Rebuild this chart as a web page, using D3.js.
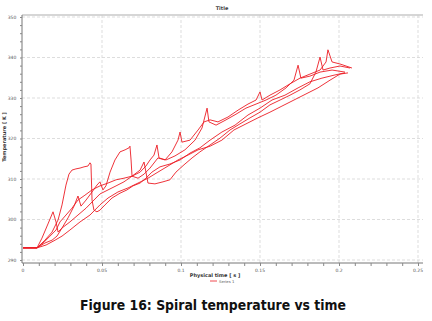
<!DOCTYPE html>
<html><head><meta charset="utf-8">
<script src="https://cdn.jsdelivr.net/npm/d3@7"></script>
<style>html,body{margin:0;padding:0;background:#fff;}svg{display:block;}</style>
</head><body>
<svg id="c" width="432" height="321"></svg>
<script>
// ---- data (time [s], temperature [K]) ----
const xTicks = [0, 0.05, 0.1, 0.15, 0.2, 0.25];
const xTickLabels = ["0", "0.05", "0.1", "0.15", "0.2", "0.25"];
const yTicks = [290, 300, 310, 320, 330, 340, 350];
const yTickLabels = ["290", "300", "310", "320", "330", "340", "350"];

const series1 = [[0,293.0],[0.0089,293.0],[0.0139,294.9],[0.0184,296.9],[0.0222,299.9],[0.0247,303.6],[0.0272,308.5],[0.0291,311.2],[0.0310,312.2],[0.0335,312.5],[0.0361,312.7],[0.0386,313.0],[0.0411,313.2],[0.0424,314.0],[0.0430,313.7],[0.0437,304.8],[0.0449,302.3],[0.0468,301.9],[0.0487,302.3],[0.0519,303.6],[0.0563,305.3],[0.0614,306.5],[0.0658,307.3],[0.0696,308.3],[0.0741,309.0],[0.0778,310.2],[0.0816,311.7],[0.0867,313.0],[0.0930,313.7],[0.0994,314.7],[0.1057,316.4],[0.1120,317.7],[0.1184,319.6],[0.1259,321.6],[0.1342,323.3],[0.1424,325.8],[0.1500,327.5],[0.1576,329.5],[0.1658,330.7],[0.1741,332.5],[0.1816,334.0],[0.1892,334.9],[0.1975,335.7],[0.2038,336.2]];
const series2 = [[0,293.0],[0.0089,293.0],[0.0120,295.4],[0.0158,298.9],[0.0190,301.9],[0.0209,299.4],[0.0222,296.9],[0.0247,297.9],[0.0285,300.4],[0.0323,303.3],[0.0348,305.8],[0.0367,303.3],[0.0399,304.8],[0.0437,306.8],[0.0468,308.5],[0.0487,309.3],[0.0506,307.3],[0.0525,308.3],[0.0551,311.7],[0.0582,314.7],[0.0614,316.7],[0.0646,317.2],[0.0671,317.7],[0.0677,318.1],[0.0684,314.7],[0.0690,310.7],[0.0728,310.2],[0.0766,311.2],[0.0804,312.7],[0.0854,315.2],[0.0899,314.7],[0.0943,316.7],[0.0981,319.6],[0.0994,321.6],[0.1006,319.1],[0.1057,319.6],[0.1108,322.1],[0.1146,324.1],[0.1184,324.6],[0.1234,324.1],[0.1297,325.3],[0.1361,327.0],[0.1424,328.5],[0.1475,329.5],[0.1500,331.5],[0.1513,329.5],[0.1563,330.7],[0.1627,332.0],[0.1690,333.5],[0.1753,334.9],[0.1816,335.9],[0.1880,336.9],[0.1918,338.9],[0.1930,341.9],[0.1956,338.9],[0.2006,338.4],[0.2082,337.4]];
const series3 = [[0,293.0],[0.0089,293.0],[0.0133,294.4],[0.0171,295.9],[0.0209,297.4],[0.0234,299.4],[0.0272,301.1],[0.0310,302.8],[0.0348,304.8],[0.0392,306.0],[0.0437,307.3],[0.0487,308.3],[0.0538,309.0],[0.0589,309.8],[0.0639,310.2],[0.0690,310.7],[0.0741,311.7],[0.0778,313.2],[0.0804,314.7],[0.0829,315.9],[0.0848,318.4],[0.0861,315.2],[0.0905,314.7],[0.0962,315.7],[0.1025,317.2],[0.1089,319.6],[0.1133,322.6],[0.1165,327.5],[0.1177,324.1],[0.1222,323.3],[0.1285,324.6],[0.1348,326.0],[0.1411,327.5],[0.1475,328.5],[0.1538,329.5],[0.1601,330.7],[0.1665,332.5],[0.1715,334.4],[0.1741,338.1],[0.1759,334.9],[0.1816,335.4],[0.1880,336.4],[0.1956,336.9],[0.2038,336.4]];
const series4 = [[0,293.0],[0.0089,293.0],[0.0139,294.2],[0.0184,294.9],[0.0215,295.9],[0.0247,297.9],[0.0297,299.4],[0.0348,301.1],[0.0399,302.8],[0.0449,304.8],[0.0487,306.3],[0.0538,307.3],[0.0589,308.3],[0.0639,309.3],[0.0690,310.7],[0.0741,312.2],[0.0766,314.2],[0.0778,311.7],[0.0791,309.0],[0.0835,308.8],[0.0886,309.3],[0.0930,309.8],[0.0968,311.7],[0.1019,313.5],[0.1070,315.2],[0.1120,316.7],[0.1184,318.4],[0.1247,320.1],[0.1310,322.1],[0.1373,323.6],[0.1437,325.1],[0.1500,326.5],[0.1563,328.3],[0.1627,329.5],[0.1690,330.7],[0.1753,332.0],[0.1816,333.5],[0.1854,336.4],[0.1880,340.1],[0.1899,336.9],[0.1943,337.4],[0.2006,337.9],[0.2070,337.4]];
const series5 = [[0,293.0],[0.0089,293.0],[0.0146,293.7],[0.0203,294.9],[0.0247,295.9],[0.0297,297.4],[0.0361,299.4],[0.0424,301.1],[0.0487,303.6],[0.0538,305.3],[0.0601,306.8],[0.0665,307.8],[0.0728,309.0],[0.0791,310.2],[0.0854,311.7],[0.0918,313.2],[0.0981,314.7],[0.1044,315.9],[0.1108,317.2],[0.1184,318.1],[0.1259,319.6],[0.1335,322.1],[0.1411,323.6],[0.1487,325.1],[0.1563,326.5],[0.1639,328.0],[0.1715,329.5],[0.1791,331.0],[0.1867,332.5],[0.1943,334.4],[0.2006,335.9],[0.2057,336.2]];
const allSeries = [series1, series2, series3, series4, series5];

const chartTitle = "Title";
const xLabel = "Physical time [ s ]";
const yLabel = "Temperature [ K ]";
const legendLabel = "Series 1";
const caption = "Figure 16: Spiral temperature vs time";

// ---- drawing ----
const svg = d3.select("#c");
const plot = {left: 22, right: 423, top: 15, bottom: 263};
const x = d3.scaleLinear().domain([0, 0.25]).range([23, 418]);
const y = d3.scaleLinear().domain([290, 350]).range([260, 17]);
const red = "#ec1c24";

// grid
const grid = svg.append("g");
grid.selectAll("line.v").data(xTicks.slice(1)).join("line")
  .attr("x1", d => x(d)).attr("x2", d => x(d)).attr("y1", plot.top).attr("y2", plot.bottom)
  .attr("stroke", "#d4d4d4").attr("stroke-width", 0.8).attr("stroke-dasharray", "3,2");
grid.selectAll("line.h").data(yTicks).join("line")
  .attr("x1", plot.left).attr("x2", plot.right).attr("y1", d => y(d)).attr("y2", d => y(d))
  .attr("stroke", "#d4d4d4").attr("stroke-width", 0.8).attr("stroke-dasharray", "3,2");

// frame top
svg.append("line").attr("x1", plot.left).attr("x2", plot.right).attr("y1", plot.top).attr("y2", plot.top)
  .attr("stroke", "#c8c8c8").attr("stroke-width", 1.5);

// axes
const xAxis = d3.axisBottom(x).tickValues(d3.range(0, 0.2501, 0.01)).tickSize(3).tickFormat("");
const gx = svg.append("g").attr("transform", `translate(0,${plot.bottom})`).call(xAxis);
gx.select(".domain").attr("d", `M${plot.left},0H${plot.right}`).attr("stroke", "#777");
gx.selectAll(".tick line").attr("stroke", "#888");
svg.append("g").selectAll("text").data(xTicks).join("text")
  .attr("x", d => x(d)).attr("y", plot.bottom + 9).attr("text-anchor", "middle")
  .attr("font-family", "DejaVu Sans").attr("font-size", 4.5).attr("fill", "#555")
  .text((d, i) => xTickLabels[i]);

const yAxis = d3.axisLeft(y).tickValues(d3.range(290, 350.1, 2)).tickSize(2).tickFormat("");
const gy = svg.append("g").attr("transform", `translate(${plot.left},0)`).call(yAxis);
gy.select(".domain").attr("d", `M0,${plot.top}V${plot.bottom}`).attr("stroke", "#777");
gy.selectAll(".tick line").attr("stroke", "#888");
svg.append("g").selectAll("text").data(yTicks).join("text")
  .attr("x", 12).attr("y", d => y(d) + 1.5).attr("text-anchor", "middle")
  .attr("font-family", "DejaVu Sans").attr("font-size", 4.5).attr("fill", "#555")
  .text((d, i) => yTickLabels[i]);

// lines
const line = d3.line().x(d => x(d[0])).y(d => y(d[1]));
svg.append("g").selectAll("path").data(allSeries).join("path")
  .attr("d", line).attr("fill", "none").attr("stroke", red).attr("stroke-width", 0.9)
  .attr("stroke-linejoin", "round");

// labels
svg.append("text").attr("x", 222).attr("y", 10).attr("text-anchor", "middle")
  .attr("font-family", "DejaVu Sans").attr("font-weight", "bold").attr("font-size", 5).attr("fill", "#444")
  .text(chartTitle);
svg.append("text").attr("x", 215).attr("y", 277).attr("text-anchor", "middle")
  .attr("font-family", "DejaVu Sans").attr("font-weight", "bold").attr("font-size", 5).attr("fill", "#333")
  .text(xLabel);
svg.append("text").attr("transform", "translate(6,137) rotate(-90)").attr("text-anchor", "middle")
  .attr("font-family", "DejaVu Sans").attr("font-weight", "bold").attr("font-size", 5).attr("fill", "#333")
  .text(yLabel);
svg.append("line").attr("x1", 210).attr("x2", 217).attr("y1", 281).attr("y2", 281)
  .attr("stroke", red).attr("stroke-width", 0.8);
svg.append("text").attr("x", 219).attr("y", 282.5)
  .attr("font-family", "DejaVu Sans").attr("font-size", 3.8).attr("fill", "#555")
  .text(legendLabel);

// caption
svg.append("text").attr("x", 80).attr("y", 310)
  .attr("font-family", "DejaVu Sans").attr("font-weight", "bold").attr("font-size", 13.5).attr("fill", "#111")
  .attr("textLength", 266).attr("lengthAdjust", "spacingAndGlyphs")
  .text(caption);
</script>
</body></html>
